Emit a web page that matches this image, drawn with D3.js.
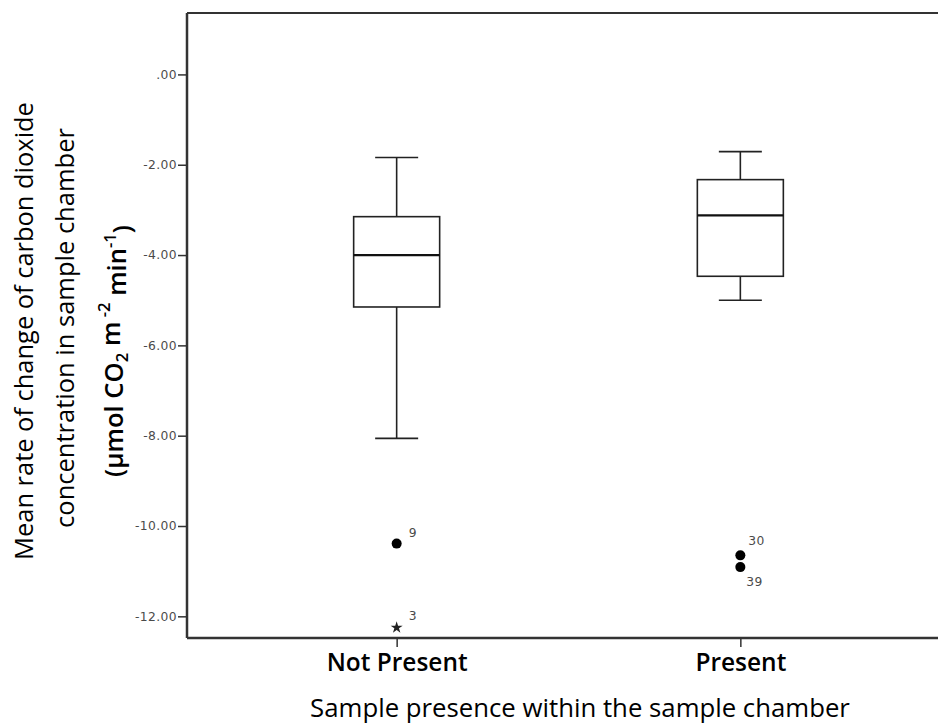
<!DOCTYPE html>
<html><head><meta charset="utf-8">
<script src="https://d3js.org/d3.v7.min.js"></script>
<style>body{margin:0;background:#fff;}svg{display:block;}</style>
</head><body>
<svg id="chart" width="938" height="724"></svg>
<script>
const categories = ["Not Present", "Present"];
const whiskerHigh = [-1.84, -1.71];
const q3 = [-3.15, -2.33];
const medians = [-4.00, -3.12];
const q1 = [-5.15, -4.47];
const whiskerLow = [-8.06, -5.00];
const outlierCat = ["Not Present", "Present", "Present"];
const outlierVal = [-10.39, -10.65, -10.91];
const outlierLab = ["9", "30", "39"];
const extremeCat = ["Not Present"];
const extremeVal = [-12.25];
const extremeLab = ["3"];
const yTicks = [0, -2, -4, -6, -8, -10, -12];

const svg = d3.select("#chart");
const L = 187, T = 13, B = 638, R = 950;
const y = d3.scaleLinear().domain([-12.48, 1.36]).range([B, T]);
const x = d3.scalePoint().domain(categories).range([L, R]).padding(0.61);

function fit(sel, target) {
  const n = sel.node();
  const fs = parseFloat(sel.attr("font-size"));
  const w = n.getComputedTextLength();
  sel.attr("font-size", fs * target / w);
}
const smallFont = s => s.attr("fill", "#4a4a4a").attr("font-family", "DejaVu Sans, sans-serif")
  .attr("font-size", 12.3).attr("letter-spacing", 0.4);

// frame top
svg.append("line").attr("x1", L).attr("x2", R + 20).attr("y1", T).attr("y2", T)
  .attr("stroke", "#333").attr("stroke-width", 2);

// y axis
const yAxis = svg.append("g").attr("transform", `translate(${L},0)`)
  .call(d3.axisLeft(y).tickValues(yTicks).tickSize(9).tickPadding(1)
    .tickFormat(d => d === 0 ? ".00" : d.toFixed(2)));
yAxis.select(".domain").attr("d", `M0,${T}V${B}`).attr("stroke", "#333").attr("stroke-width", 2.5);
yAxis.selectAll(".tick line").attr("stroke", "#333").attr("stroke-width", 1.5);
yAxis.selectAll(".tick text").call(smallFont);

// x axis
const xAxis = svg.append("g").attr("transform", `translate(0,${B})`)
  .call(d3.axisBottom(x).tickSize(9).tickPadding(0));
xAxis.select(".domain").attr("d", `M${L},0H${R + 20}`).attr("stroke", "#333").attr("stroke-width", 2.5);
xAxis.selectAll(".tick line").attr("stroke", "#333").attr("stroke-width", 1.5);
xAxis.selectAll(".tick text").attr("fill", "#000").attr("font-family", "Open Sans, sans-serif")
  .attr("font-size", 19).attr("font-weight", 600).attr("dy", null).attr("y", 33)
  .each(function(d){ fit(d3.select(this), d === "Not Present" ? 141 : 91); });

// boxes
const bw = 86, cw = 43;
const g = svg.append("g").attr("stroke", "#222").attr("stroke-width", 1.6).attr("fill", "none");
categories.forEach((c, i) => {
  const cx = x(c);
  g.append("line").attr("x1", cx).attr("x2", cx).attr("y1", y(whiskerHigh[i])).attr("y2", y(q3[i]));
  g.append("line").attr("x1", cx).attr("x2", cx).attr("y1", y(q1[i])).attr("y2", y(whiskerLow[i]));
  g.append("line").attr("x1", cx - cw/2).attr("x2", cx + cw/2).attr("y1", y(whiskerHigh[i])).attr("y2", y(whiskerHigh[i]));
  g.append("line").attr("x1", cx - cw/2).attr("x2", cx + cw/2).attr("y1", y(whiskerLow[i])).attr("y2", y(whiskerLow[i]));
  g.append("rect").attr("x", cx - bw/2).attr("width", bw).attr("y", y(q3[i])).attr("height", y(q1[i]) - y(q3[i])).attr("fill", "#fff");
  g.append("line").attr("x1", cx - bw/2).attr("x2", cx + bw/2).attr("y1", y(medians[i])).attr("y2", y(medians[i])).attr("stroke-width", 2.2).attr("stroke", "#111");
});

// outliers
outlierVal.forEach((v, i) => {
  svg.append("circle").attr("cx", x(outlierCat[i])).attr("cy", y(v)).attr("r", 5).attr("fill", "#000");
});
svg.append("text").attr("x", x(outlierCat[0]) + 12).attr("y", y(outlierVal[0]) - 7).text(outlierLab[0]).call(smallFont);
svg.append("text").attr("x", x(outlierCat[1]) + 8).attr("y", y(outlierVal[1]) - 10).text(outlierLab[1]).call(smallFont);
svg.append("text").attr("x", x(outlierCat[2]) + 6).attr("y", y(outlierVal[2]) + 19).text(outlierLab[2]).call(smallFont);

extremeVal.forEach((v, i) => {
  const cx = x(extremeCat[i]);
  svg.append("path").attr("d", d3.symbol(d3.symbolStar, 45)()).attr("transform", `translate(${cx},${y(v)})`).attr("fill", "#222");
  svg.append("text").attr("x", cx + 12).attr("y", y(v) - 8).text(extremeLab[i]).call(smallFont);
});

// x title
const xt = svg.append("text").attr("x", 580).attr("y", 717).attr("text-anchor", "middle")
  .attr("font-family", "Open Sans, sans-serif").attr("font-size", 20).attr("fill", "#000")
  .text("Sample presence within the sample chamber");
fit(xt, 540);

// y title
const yt = svg.append("g").attr("font-family", "Open Sans, sans-serif").attr("fill", "#000").attr("text-anchor", "middle");
const t1 = yt.append("text").attr("transform", "translate(33,331) rotate(-90)").attr("font-size", 20).text("Mean rate of change of carbon dioxide");
fit(t1, 458);
const t2 = yt.append("text").attr("transform", "translate(74,328) rotate(-90)").attr("font-size", 20).text("concentration in sample chamber");
fit(t2, 400);
const t3 = yt.append("text").attr("transform", "translate(123,351) rotate(-90)").attr("font-size", 20).attr("font-weight", 600);
t3.append("tspan").text("(\u03bcmol CO");
t3.append("tspan").attr("font-size", "65%").attr("dy", "0.3em").text("2");
t3.append("tspan").attr("dy", "-0.3em").text(" m");
t3.append("tspan").attr("font-size", "65%").attr("dy", "-0.6em").text(" -2");
t3.append("tspan").attr("dy", "0.6em").text(" min");
t3.append("tspan").attr("font-size", "65%").attr("dy", "-0.6em").text("-1");
t3.append("tspan").attr("dy", "0.6em").text(")");
fit(t3, 252);
</script>
</body></html>
